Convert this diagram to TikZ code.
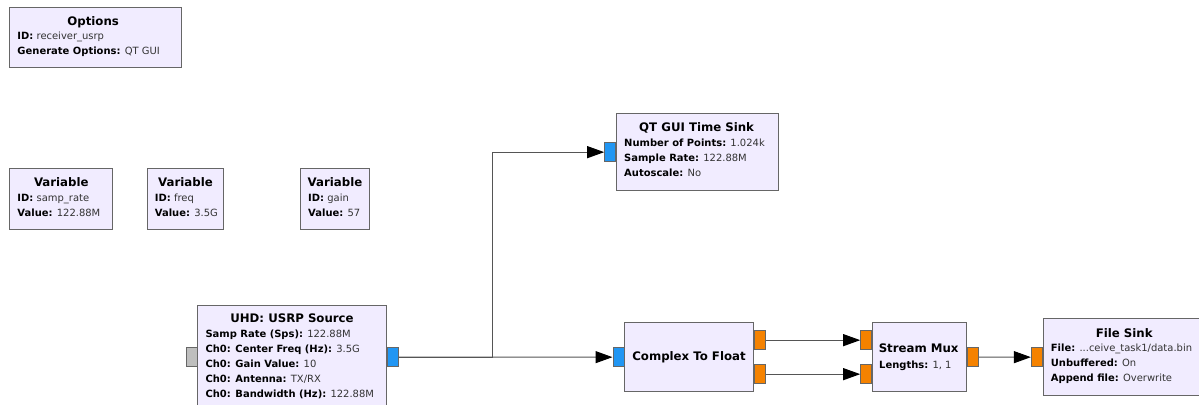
\documentclass[tikz,border=0pt]{standalone}
\usepackage{fontspec}
\setmainfont{DejaVu Sans}
\usetikzlibrary{arrows.meta, calc, positioning}

\definecolor{blockfill}{HTML}{F1ECFF}
\definecolor{blockedge}{HTML}{666666}
\definecolor{cplxport}{HTML}{2196F3}
\definecolor{fltport}{HTML}{F58200}
\definecolor{msgport}{HTML}{BEBEBE}
\definecolor{wirecol}{HTML}{555555}
\definecolor{valtext}{HTML}{333333}

\tikzset{
  blk/.style={draw=blockedge, fill=blockfill, line width=1bp, inner sep=0pt, anchor=north west},
  ttl/.style={font=\bfseries\fontsize{11.8}{15}\selectfont, inner sep=0pt, anchor=base},
  prm/.style={font=\fontsize{10}{15}\selectfont, inner sep=0pt, anchor=base west, text=valtext},
  port/.style={draw=blockedge, line width=0.8bp, minimum width=11bp, minimum height=19bp, inner sep=0pt},
  wire/.style={draw=wirecol, line width=1bp, -{Triangle[length=17bp,width=12bp,black]}},
}

\newcommand\pkey[1]{\textcolor{black}{\bfseries #1}}

\begin{document}
\begin{tikzpicture}[x=1bp, y=-1bp]

\fill[white] (0,0) rectangle (1199,404);
\useasboundingbox (0,0) rectangle (1199,404);

%------------------------------------------------------------
% variable / option blocks (top left)
%------------------------------------------------------------
\node[blk, minimum width=171.7bp, minimum height=60bp] (opts) at (9.3,6.7) {};
\node[ttl] (opts-t) at ($(opts.north)+(-2.5,18.3)$) {Options};
\foreach \i/\k/\v in {0/ID:/receiver\_usrp, 1/Generate Options:/QT GUI}{
    \node[prm] (opts-p\i) at ($(opts.north west)+(8,32.3+15*\i)$) {\pkey{\k} \v};
}

\node[blk, minimum width=103bp, minimum height=60.7bp] (vrate) at (9.3,168.3) {};
\node[ttl] (vrate-t) at ($(vrate.north)+(0,18.4)$) {Variable};
\foreach \i/\k/\v in {0/ID:/samp\_rate, 1/Value:/122.88M}{
    \node[prm] (vrate-p\i) at ($(vrate.north west)+(8,33+15*\i)$) {\pkey{\k} \v};
}

\node[blk, minimum width=76.6bp, minimum height=60.7bp] (vfreq) at (146.7,168.3) {};
\node[ttl] (vfreq-t) at ($(vfreq.north)+(0,18.4)$) {Variable};
\foreach \i/\k/\v in {0/ID:/freq, 1/Value:/3.5G}{
    \node[prm] (vfreq-p\i) at ($(vfreq.north west)+(8,33+15*\i)$) {\pkey{\k} \v};
}

\node[blk, minimum width=69bp, minimum height=60.7bp] (vgain) at (300,168.3) {};
\node[ttl] (vgain-t) at ($(vgain.north)+(0,18.4)$) {Variable};
\foreach \i/\k/\v in {0/ID:/gain, 1/Value:/57}{
    \node[prm] (vgain-p\i) at ($(vgain.north west)+(8,33+15*\i)$) {\pkey{\k} \v};
}

%------------------------------------------------------------
% flow graph blocks
%------------------------------------------------------------
% USRP source (runs off the bottom edge)
\node[blk, minimum width=188.4bp, minimum height=103bp] (usrp) at (197.3,305) {};
\node[ttl] (usrp-t) at ($(usrp.north)+(0,17.7)$) {UHD: USRP Source};
\foreach \i/\k/\v in {0/Samp Rate (Sps):/122.88M, 1/Ch0: Center Freq (Hz):/3.5G,
                      2/Ch0: Gain Value:/10, 3/Ch0: Antenna:/{TX/RX},
                      4/Ch0: Bandwidth (Hz):/122.88M}{
    \node[prm] (usrp-p\i) at ($(usrp.north west)+(8,32.5+15*\i)$) {\pkey{\k} \v};
}

% time sink
\node[blk, minimum width=162.3bp, minimum height=76.7bp] (qt) at (616,113.3) {};
\node[ttl] (qt-t) at ($(qt.north)+(-1,18.4)$) {QT GUI Time Sink};
\foreach \i/\k/\v in {0/Number of Points:/1.024k, 1/Sample Rate:/122.88M, 2/Autoscale:/No}{
    \node[prm] (qt-p\i) at ($(qt.north west)+(8,33+15*\i)$) {\pkey{\k} \v};
}

% complex to float
\node[blk, minimum width=128.4bp, minimum height=68.7bp] (ctf) at (624.3,322.3) {};
\node[ttl] (ctf-t) at ($(ctf.center)+(0,3.5)$) {Complex To Float};

% stream mux
\node[blk, minimum width=94.3bp, minimum height=68.7bp] (mux) at (872,322.3) {};
\node[ttl] (mux-t) at ($(mux.north)+(-1,30)$) {Stream Mux};
\node[prm] (mux-p0) at ($(mux.north west)+(7,45.7)$) {\pkey{Lengths:} 1, 1};

% file sink (runs off the right edge)
\node[blk, minimum width=165bp, minimum height=76.7bp] (fsink) at (1042.7,318.3) {};
\node[ttl] (fsink-t) at ($(fsink.north)+(-1.5,19)$) {File Sink};
\foreach \i/\k/\v in {0/File:/{...ceive\_task1/data.bin}, 1/Unbuffered:/On, 2/Append file:/Overwrite}{
    \node[prm] (fsink-p\i) at ($(fsink.north west)+(8,33.5+15*\i)$) {\pkey{\k} \v};
}

%------------------------------------------------------------
% ports
%------------------------------------------------------------
\node[port, fill=msgport,  anchor=east] (usrp-in)  at (usrp.west) {};
\node[port, fill=cplxport, anchor=west] (usrp-out) at ($(usrp.east)+(0,0.2)$) {};
\node[port, fill=cplxport, anchor=east] (qt-in)    at (qt.west) {};
\node[port, fill=cplxport, anchor=east] (ctf-in)   at (ctf.west) {};
\node[port, fill=fltport,  anchor=west] (ctf-o0)   at ($(ctf.east)+(0,-17)$) {};
\node[port, fill=fltport,  anchor=west] (ctf-o1)   at ($(ctf.east)+(0,17)$) {};
\node[port, fill=fltport,  anchor=east] (mux-i0)   at ($(mux.west)+(0,-17)$) {};
\node[port, fill=fltport,  anchor=east] (mux-i1)   at ($(mux.west)+(0,17)$) {};
\node[port, fill=fltport,  anchor=west] (mux-out)  at (mux.east) {};
\node[port, fill=fltport,  anchor=east] (fsink-in) at (fsink.west) {};

%------------------------------------------------------------
% connections
%------------------------------------------------------------
\coordinate (split) at ($(usrp-out.east)+(94,0)$);
\draw[wire] (usrp-out.east) -- (ctf-in.west);
\draw[wire] (usrp-out.east) -- (split) |- (qt-in.west);
\draw[wire] (ctf-o0.east) -- (mux-i0.west);
\draw[wire] (ctf-o1.east) -- (mux-i1.west);
\draw[wire] (mux-out.east) -- (fsink-in.west);

\end{tikzpicture}
\end{document}
